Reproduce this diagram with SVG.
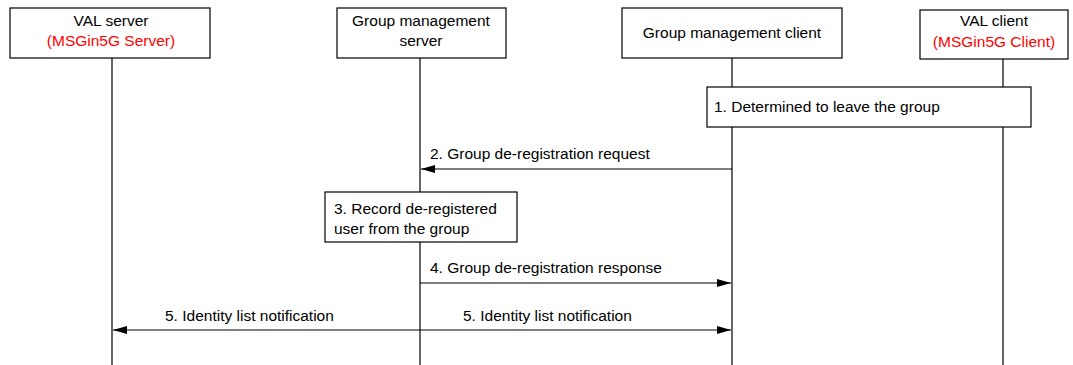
<svg xmlns="http://www.w3.org/2000/svg" width="1073" height="365" viewBox="0 0 1073 365">
<style>
.box{fill:#fff;stroke:#000;stroke-width:1.2}
.life{stroke:#000;stroke-width:1.2}
.msg{stroke:#000;stroke-width:1.2;fill:none}
text{font-family:"Liberation Sans",Arial,sans-serif;font-size:15.5px;fill:#000}
.c{text-anchor:middle}
.red{fill:#ff0000}
</style>
<defs>
<marker id="ah" viewBox="0 0 14 8" refX="14" refY="4" markerWidth="14" markerHeight="8" markerUnits="userSpaceOnUse" orient="auto-start-reverse">
<path d="M0,0 L14,4 L0,8 Z" fill="#000"/>
</marker>
</defs>
<g id="lifelines">
<line class="life" x1="112" y1="58" x2="112" y2="365"/>
<line class="life" x1="420" y1="58" x2="420" y2="365"/>
<line class="life" x1="732" y1="58" x2="732" y2="365"/>
<line class="life" x1="1003" y1="59" x2="1003" y2="365"/>
</g>
<g id="val-server">
<rect class="box" x="10" y="8" width="200" height="50"/>
<text class="c" x="111" y="26">VAL server</text>
<text class="c red" x="111" y="46">(MSGin5G Server)</text>
</g>
<g id="gm-server">
<rect class="box" x="337" y="8" width="169" height="50"/>
<text class="c" x="421" y="26">Group management</text>
<text class="c" x="421" y="46">server</text>
</g>
<g id="gm-client">
<rect class="box" x="622" y="8" width="220" height="50"/>
<text class="c" x="732" y="38">Group management client</text>
</g>
<g id="val-client">
<rect class="box" x="920" y="10" width="148" height="49"/>
<text class="c" x="994" y="26">VAL client</text>
<text class="c red" x="994" y="47">(MSGin5G Client)</text>
</g>
<g id="step1">
<rect class="box" x="707" y="87" width="324" height="40"/>
<text x="714" y="112">1. Determined to leave the group</text>
</g>
<g id="step3">
<rect class="box" x="325" y="192" width="192" height="50"/>
<text x="334" y="214">3. Record de-registered</text>
<text x="334" y="234">user from the group</text>
</g>
<g id="connectors">
<line class="msg" x1="732" y1="169" x2="421" y2="169" marker-end="url(#ah)"/>
<text x="430" y="159">2. Group de-registration request</text>
<line class="msg" x1="420" y1="283" x2="731" y2="283" marker-end="url(#ah)"/>
<text x="430" y="273">4. Group de-registration response</text>
<line class="msg" x1="113" y1="330" x2="731" y2="330" marker-start="url(#ah)" marker-end="url(#ah)"/>
<text x="165" y="321">5. Identity list notification</text>
<text x="463" y="321">5. Identity list notification</text>
</g>
</svg>
